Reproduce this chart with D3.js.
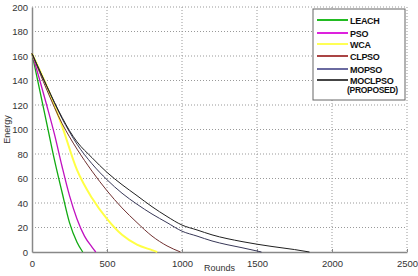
<!DOCTYPE html>
<html>
<head>
<meta charset="utf-8">
<script src="https://cdn.jsdelivr.net/npm/d3@7"></script>
<style>
body { margin: 0; background: #fff; }
text { font-family: Arial, "Liberation Sans", sans-serif; }
</style>
</head>
<body>
<div class="container"></div>
<script>
// series: [rounds, energy]
var leach = [[0,162],[50,133],[100,104],[150,75],[200,49],[250,24],[300,8],[338,0]];
var pso = [[0,162],[50,141],[100,119],[150,96],[200,70],[250,46],[300,27],[350,13],[400,4],[425,0]];
var wca = [[0,162],[100,135],[200,103],[300,67],[400,44],[500,27],[600,14],[700,6],[800,1.5],[835,0]];
var clpso = [[0,162],[100,132],[200,105],[250,94],[300,84],[400,66],[500,50],[600,36],[700,24],[800,13],[900,5],[990,0]];
var mopso = [[0,162],[100,135],[200,109],[250,98],[300,88],[400,72],[500,59],[600,48],[700,39],[800,31],[900,24],[1000,17],[1100,13],[1200,9],[1300,6],[1400,3.5],[1530,0]];
var moclpso = [[0,162],[100,135],[200,110],[250,99],[300,90],[400,77],[500,65],[600,55],[700,46],[800,37],[900,29],[1000,22],[1100,18],[1200,14],[1400,8.5],[1600,4.5],[1750,2],[1850,0]];

var seriesNames = ['LEACH', 'PSO', 'WCA', 'CLPSO', 'MOPSO', 'MOCLPSO'];
var seriesData = [leach, pso, wca, clpso, mopso, moclpso];
var xTicks = [0, 500, 1000, 1500, 2000, 2500];
var yTicks = [0, 20, 40, 60, 80, 100, 120, 140, 160, 180, 200];

const WIDTH = 418;
const HEIGHT = 276;
const LEFT = 32, RIGHT = 407, TOP = 7, BOTTOM = 252;

var colors = ['#11aa11', '#c010c0', '#ffff44', '#703030', '#383858', '#202020'];
var widths = [1.3, 1.3, 2, 1, 1, 1];
var legendColors = ['#22bb22', '#dd22dd', '#ffff55', '#aa4444', '#6a6aa0', '#444444'];

var svg = d3.select('.container').append('svg')
	.attr('width', WIDTH)
	.attr('height', HEIGHT);

var xScale = d3.scaleLinear().domain([0, 2500]).range([LEFT, RIGHT]);
var yScale = d3.scaleLinear().domain([0, 200]).range([BOTTOM, TOP]);

// grid
svg.append('g').selectAll('line').data(xTicks.slice(1))
	.enter().append('line')
	.attr('x1', function(d){return xScale(d)}).attr('x2', function(d){return xScale(d)})
	.attr('y1', TOP).attr('y2', BOTTOM)
	.attr('stroke', '#999').attr('stroke-width', 1).attr('stroke-dasharray', '1,2');
svg.append('g').selectAll('line').data(yTicks.slice(1))
	.enter().append('line')
	.attr('y1', function(d){return yScale(d)}).attr('y2', function(d){return yScale(d)})
	.attr('x1', LEFT).attr('x2', RIGHT)
	.attr('stroke', '#999').attr('stroke-width', 1).attr('stroke-dasharray', '1,2');

// axes
var xAxis = d3.axisBottom(xScale).tickValues(xTicks).tickFormat(d3.format('d')).tickSize(3).tickSizeOuter(0);
var yAxis = d3.axisLeft(yScale).tickValues(yTicks).tickSize(0).tickPadding(4);

var gx = svg.append('g').attr('transform', 'translate(0,' + BOTTOM + ')').call(xAxis);
gx.selectAll('.tick line').attr('y2', -3).attr('stroke', '#888');
var gy = svg.append('g').attr('transform', 'translate(' + LEFT + ',0)').call(yAxis);
[gx, gy].forEach(function(g){
	g.select('.domain').attr('stroke', '#888').attr('stroke-width', 1.5);
	g.selectAll('text').attr('font-size', 9.5).attr('fill', '#333')
		.style('font-family', 'Arial, "Liberation Sans", sans-serif');
});
gx.selectAll('text').attr('dy', '0.9em');

svg.append('text').attr('x', (LEFT + RIGHT) / 2).attr('y', 271)
	.attr('text-anchor', 'middle').attr('font-size', 9).attr('fill', '#333').text('Rounds');
svg.append('text').attr('transform', 'translate(10,' + ((TOP + BOTTOM) / 2) + ') rotate(-90)')
	.attr('text-anchor', 'middle').attr('font-size', 9).attr('fill', '#333').text('Energy');

// lines
var line = d3.line()
	.x(function(d){return xScale(d[0])})
	.y(function(d){return yScale(d[1])})
	.curve(d3.curveMonotoneX);

svg.append('g').selectAll('path').data(seriesData)
	.enter().append('path')
	.attr('d', line)
	.attr('fill', 'none')
	.attr('stroke', function(d, i){return colors[i]})
	.attr('stroke-width', function(d, i){return widths[i]});

// legend
var lg = svg.append('g').attr('transform', 'translate(313,9)');
lg.append('rect').attr('x', 0).attr('y', 0).attr('width', 92).attr('height', 91)
	.attr('fill', '#fff').attr('stroke', '#666').attr('stroke-width', 1);
var rowY = [11, 24, 35, 47, 60, 71];
var items = lg.selectAll('g.item').data(seriesNames)
	.enter().append('g').attr('class', 'item')
	.attr('transform', function(d, i){return 'translate(0,' + rowY[i] + ')'});
items.append('line').attr('x1', 4).attr('x2', 35).attr('y1', 0).attr('y2', 0)
	.attr('stroke', function(d, i){return legendColors[i]}).attr('stroke-width', 2);
items.append('text').attr('x', 37).attr('y', 3.5).attr('font-size', 9).attr('font-weight', 'bold')
	.attr('fill', '#111').attr('letter-spacing', -0.3).text(function(d){return d});
lg.append('text').attr('x', 34).attr('y', 84).attr('font-size', 8.5).attr('font-weight', 'bold')
	.attr('fill', '#111').attr('letter-spacing', -0.3).text('(PROPOSED)');
</script>
</body>
</html>
